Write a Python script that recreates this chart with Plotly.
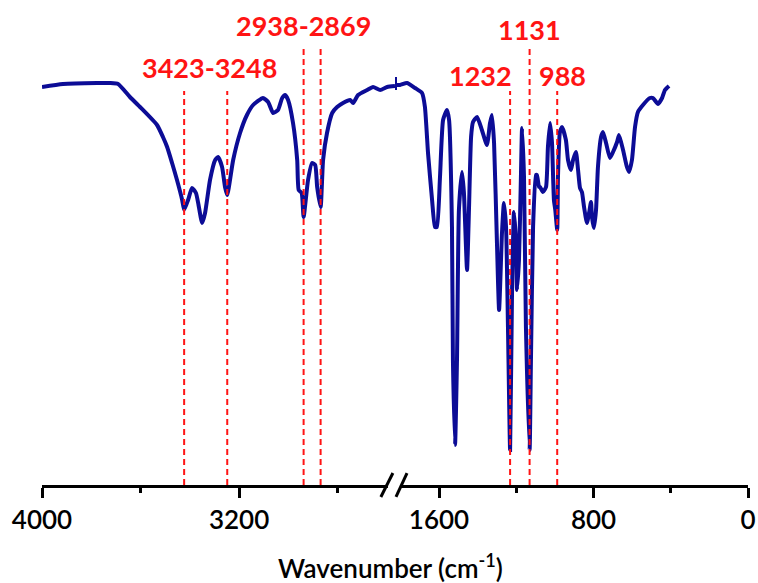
import plotly.graph_objects as go

# FTIR spectrum, high-wavenumber segment (cm-1) and transmittance (a.u.)
wn_high = [4000, 3915, 3777, 3724, 3691, 3643, 3602, 3533, 3509, 3492, 3472, 3452,
           3431, 3423, 3407, 3391, 3375, 3366, 3350, 3338, 3318, 3297, 3285, 3269,
           3257, 3248, 3224, 3196, 3168, 3143, 3103, 3082, 3062, 3042, 3025, 3013,
           3001, 2981, 2964, 2958, 2946, 2938, 2920, 2904, 2891, 2883, 2869, 2859,
           2843, 2822, 2802, 2778, 2749, 2737, 2717, 2680, 2656, 2627, 2599, 2567]
t_high = [79.6, 80.2, 80.4, 80.4, 80.2, 77.6, 75.6, 72.0, 69.6, 67.6, 64.4, 61.0,
          57.0, 55.0, 57.0, 59.4, 58.4, 56.4, 52.4, 54.4, 61.0, 65.0, 65.6, 63.6,
          59.6, 58.0, 65.0, 70.4, 74.0, 76.0, 77.4, 76.6, 74.4, 75.0, 77.4, 78.0,
          77.0, 72.4, 65.0, 59.0, 58.4, 53.6, 61.0, 64.4, 64.0, 59.6, 55.6, 65.0,
          70.4, 74.4, 75.6, 76.4, 77.0, 76.4, 78.0, 79.0, 79.6, 79.0, 79.6, 79.8]

# Fingerprint segment
wn_low = [1828, 1828, 1828, 1802, 1766, 1724, 1688, 1673, 1657, 1636, 1621, 1611,
          1595, 1579, 1559, 1548, 1533, 1528, 1517, 1507, 1497, 1481, 1471, 1455,
          1445, 1434, 1424, 1403, 1378, 1352, 1336, 1326, 1315, 1300, 1289, 1274,
          1264, 1253, 1243, 1232, 1222, 1212, 1201, 1196, 1186, 1176, 1170, 1160,
          1150, 1131, 1124, 1113, 1098, 1093, 1082, 1077, 1062, 1046, 1036, 1025,
          1015, 1005, 998, 988, 984, 974, 963, 943, 932, 917, 906, 891,
          880, 870, 860, 849, 834, 823, 813, 808, 798, 787, 777, 761,
          751, 735, 715, 699, 678, 668, 647, 627, 616, 601, 585, 570,
          544, 508, 492, 466, 445, 430, 409]
t_low = [81.6, 79.0, 80.0, 80.0, 80.4, 79.4, 78.4, 75.6, 66.4, 57.0, 51.6, 51.6,
         61.6, 73.0, 75.0, 73.0, 51.6, 25.0, 8.0, 25.0, 55.0, 62.6, 58.4, 43.0,
         55.0, 69.6, 72.6, 73.6, 71.0, 68.0, 72.4, 74.0, 68.4, 48.4, 35.0, 50.4,
         56.4, 51.6, 31.6, 7.0, 38.4, 54.6, 48.4, 39.0, 45.0, 61.6, 71.4, 61.6,
         31.6, 7.0, 25.0, 51.6, 62.0, 62.0, 59.6, 59.6, 58.6, 59.6, 67.6, 72.4,
         68.4, 57.0, 55.0, 51.0, 61.6, 70.6, 71.6, 69.0, 65.0, 63.0, 65.0, 66.6,
         63.0, 59.4, 58.6, 55.6, 52.4, 54.4, 56.6, 53.6, 51.4, 55.0, 63.6, 69.6,
         70.6, 68.4, 65.4, 66.6, 68.6, 70.0, 67.0, 63.6, 62.6, 65.0, 71.6, 74.6,
         76.0, 77.4, 77.4, 76.2, 77.4, 79.0, 79.8]

# Marked bands
bands_high = [3423, 3248, 2938, 2869]
bands_low = [1232, 1131, 988]
band_tops = {3423: 78.8, 3248: 78.8, 2938: 87.8, 2869: 87.8,
             1232: 78.8, 1131: 87.8, 988: 78.8}

tick_high = [4000, 3200]
minor_high = [3600, 2800]
tick_low = [1600, 800, 0]
minor_low = [1200, 400]

LINE = "#0c0c96"
RED = "#ff1414"
FONT = "Lato"

fig = go.Figure()
fig.add_trace(go.Scatter(x=wn_high, y=t_high, mode="lines", xaxis="x", yaxis="y",
                         line=dict(color=LINE, width=4, shape="spline", smoothing=0.5),
                         showlegend=False))
fig.add_trace(go.Scatter(x=wn_low, y=t_low, mode="lines", xaxis="x2", yaxis="y",
                         line=dict(color=LINE, width=4, shape="spline", smoothing=0.5),
                         showlegend=False))

for b in bands_high:
    fig.add_trace(go.Scatter(x=[b, b], y=[0, band_tops[b]], mode="lines", xaxis="x", yaxis="y",
                             line=dict(color=RED, width=2, dash="6px,4px"), showlegend=False))
for b in bands_low:
    fig.add_trace(go.Scatter(x=[b, b], y=[0, band_tops[b]], mode="lines", xaxis="x2", yaxis="y",
                             line=dict(color=RED, width=2, dash="6px,4px"), showlegend=False))

label_font = dict(family=FONT, size=27, color=RED, weight="bold")
annotations = [
    dict(x=3322, y=83.6, xref="x", yref="y", text="3423-3248", showarrow=False,
         font=label_font, xanchor="center", yanchor="middle"),
    dict(x=2938, y=92.0, xref="x", yref="y", text="2938-2869", showarrow=False,
         font=label_font, xanchor="center", yanchor="middle"),
    dict(x=1232, y=82.0, xref="x2", yref="y", text="1232", showarrow=False,
         font=label_font, xanchor="right", yanchor="middle", xshift=4),
    dict(x=1131, y=91.2, xref="x2", yref="y", text="1131", showarrow=False,
         font=label_font, xanchor="center", yanchor="middle"),
    dict(x=988, y=82.0, xref="x2", yref="y", text="988", showarrow=False,
         font=label_font, xanchor="center", yanchor="middle", xshift=5),
    dict(x=0.494, y=-0.169, xref="paper", yref="paper", text="Wavenumber (cm<sup>-1</sup>)",
         showarrow=False, font=dict(family=FONT, size=26, color="black", weight=600),
         xanchor="center", yanchor="middle"),
]

axis_common = dict(showline=True, linecolor="black", linewidth=3, showgrid=False,
                   zeroline=False, ticks="outside", ticklen=10, tickwidth=3,
                   tickcolor="black", anchor="y",
                   tickfont=dict(family=FONT, size=26, color="black", weight=600))

# axis break marker
shapes = [
    dict(type="rect", xref="paper", yref="paper", x0=0.490, x1=0.5085, y0=-0.013, y1=0.013,
         fillcolor="white", line=dict(width=0), layer="above"),
    dict(type="line", xref="paper", yref="paper", x0=0.480, x1=0.497, y0=-0.0247, y1=0.0247,
         line=dict(color="black", width=3), layer="above"),
    dict(type="line", xref="paper", yref="paper", x0=0.5014, x1=0.517, y0=-0.0247, y1=0.0247,
         line=dict(color="black", width=3), layer="above"),
]

fig.update_layout(
    width=758, height=583,
    margin=dict(l=42, r=10, t=0, b=98),
    paper_bgcolor="white", plot_bgcolor="white",
    xaxis=dict(domain=[0, 0.5], range=[4000, 2567], tickvals=tick_high,
               ticktext=[str(v) for v in tick_high],
               minor=dict(tickvals=minor_high, ticks="outside", ticklen=5, tickwidth=3,
                          tickcolor="black"),
               **axis_common),
    xaxis2=dict(domain=[0.5, 1], range=[1828, 0], tickvals=tick_low,
                ticktext=[str(v) for v in tick_low],
                minor=dict(tickvals=minor_low, ticks="outside", ticklen=5, tickwidth=3,
                           tickcolor="black"),
                **axis_common),
    yaxis=dict(range=[0, 97], visible=False, fixedrange=True),
    annotations=annotations,
    shapes=shapes,
)

fig.write_html("out.html")
